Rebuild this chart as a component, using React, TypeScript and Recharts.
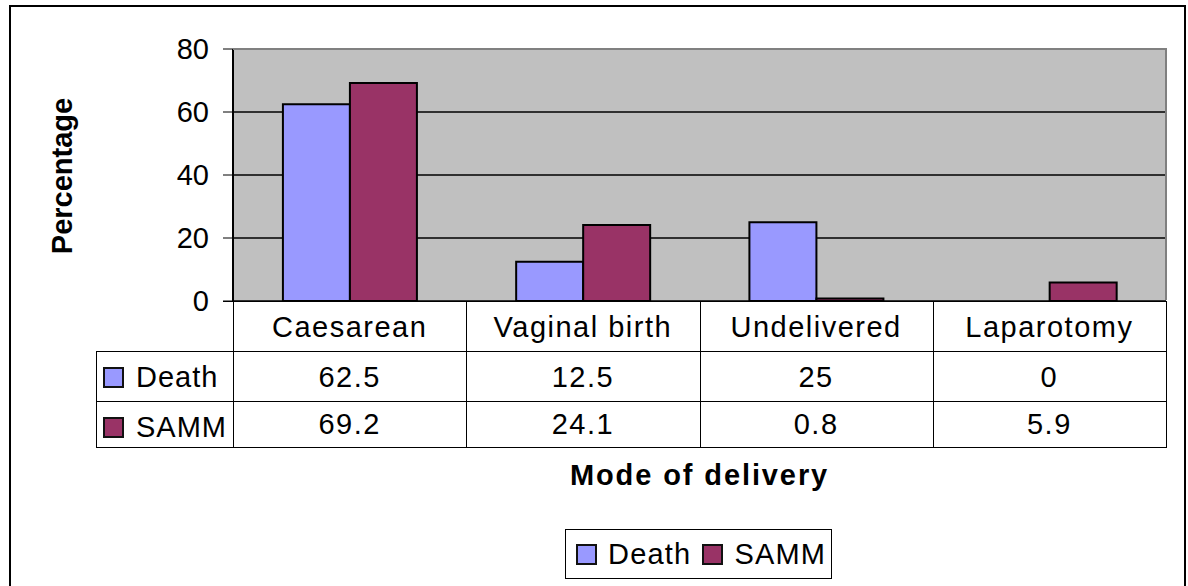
import React from 'react';
import { BarChart, Bar, XAxis, YAxis, CartesianGrid } from 'recharts';

const categories = ['Caesarean', 'Vaginal birth', 'Undelivered', 'Laparotomy'];
const deathValues = [62.5, 12.5, 25, 0];
const sammValues = [69.2, 24.1, 0.8, 5.9];
const yTicks = [0, 20, 40, 60, 80];

const series = [
  { key: 'death', name: 'Death', color: '#9999FF', values: deathValues },
  { key: 'samm', name: 'SAMM', color: '#993366', values: sammValues },
];

const data = categories.map((name, i) => ({ name, death: deathValues[i], samm: sammValues[i] }));

const FONT = 'Arial, "Liberation Sans", sans-serif';

// plot area geometry (px)
const W = 1188;
const H = 586;
const PLOT_LEFT = 233;
const PLOT_RIGHT = 1166;
const PLOT_TOP = 49;
const PLOT_BOTTOM = 301;
const Y_AXIS_W = 60;
const COL_W = (PLOT_RIGHT - PLOT_LEFT) / categories.length;
const ROW_TOP = [301, 351, 401];
const ROW_BOTTOM = 447;
const TABLE_LEFT = 96;

const Swatch: React.FC<{ color: string; gap?: number }> = ({ color, gap = 12 }) => (
  <span
    style={{
      display: 'inline-block',
      width: 17,
      height: 17,
      background: color,
      border: '2px solid #111',
      marginRight: gap,
      verticalAlign: 'middle',
      position: 'relative',
      top: -2,
    }}
  />
);

const App: React.FC = () => {
  const line = '1px solid #000';
  const cellText: React.CSSProperties = {
    position: 'absolute',
    fontFamily: FONT,
    fontSize: 29,
    letterSpacing: 1.5,
    color: '#000',
    textAlign: 'center',
    lineHeight: '50px',
    whiteSpace: 'nowrap',
  };

  return (
    <div style={{ position: 'absolute', left: 0, top: 0, width: W, height: H, overflow: 'hidden', background: '#fff' }}>
      <BarChart
        width={W}
        height={H}
        data={data}
        margin={{ top: PLOT_TOP, right: W - PLOT_RIGHT, bottom: H - PLOT_BOTTOM, left: PLOT_LEFT - Y_AXIS_W }}
        barCategoryGap="21.4%"
        barGap={0}
      >
        <CartesianGrid vertical={false} fill="#C0C0C0" fillOpacity={1} stroke="#000" strokeWidth={1.4} strokeOpacity={1} />
        <XAxis dataKey="name" hide />
        <YAxis
          width={Y_AXIS_W}
          domain={[0, 80]}
          ticks={yTicks}
          interval={0}
          tickSize={10}
          tickMargin={14}
          axisLine={{ stroke: '#000', strokeWidth: 2 }}
          tickLine={{ stroke: '#000' }}
          tick={{ fill: '#000', fontSize: 29, fontFamily: FONT }}
        />
        {series.map((s) => (
          <Bar key={s.key} dataKey={s.key} name={s.name} fill={s.color} stroke="#000" strokeWidth={2} isAnimationActive={false} />
        ))}
      </BarChart>

      {/* plot frame: grey top and right edge */}
      <div
        style={{
          position: 'absolute',
          left: PLOT_LEFT,
          top: PLOT_TOP - 1,
          width: PLOT_RIGHT - PLOT_LEFT + 1,
          height: PLOT_BOTTOM - PLOT_TOP,
          borderTop: '2px solid #808080',
          borderRight: '2px solid #808080',
          boxSizing: 'border-box',
          pointerEvents: 'none',
        }}
      />

      {/* y axis title */}
      <div
        style={{
          position: 'absolute',
          left: 62,
          top: 176,
          transform: 'translate(-50%, -50%) rotate(-90deg)',
          fontFamily: FONT,
          fontWeight: 'bold',
          fontSize: 29,
          whiteSpace: 'nowrap',
        }}
      >
        Percentage
      </div>

      {/* data table lines */}
      <div style={{ position: 'absolute', left: PLOT_LEFT - 10, top: ROW_TOP[0], width: PLOT_RIGHT - PLOT_LEFT + 10, borderTop: line }} />
      {[ROW_TOP[1], ROW_TOP[2], ROW_BOTTOM].map((y) => (
        <div key={y} style={{ position: 'absolute', left: TABLE_LEFT, top: y, width: PLOT_RIGHT - TABLE_LEFT, borderTop: line }} />
      ))}
      {categories.map((_, i) => (
        <div key={i} style={{ position: 'absolute', left: PLOT_LEFT + COL_W * i, top: ROW_TOP[0], height: ROW_BOTTOM - ROW_TOP[0], borderLeft: line }} />
      ))}
      <div style={{ position: 'absolute', left: PLOT_RIGHT, top: ROW_TOP[0], height: ROW_BOTTOM - ROW_TOP[0] + 1, borderLeft: line }} />
      <div style={{ position: 'absolute', left: TABLE_LEFT, top: ROW_TOP[1], height: ROW_BOTTOM - ROW_TOP[1], borderLeft: line }} />

      {/* table: category header */}
      {categories.map((c, i) => (
        <div key={c} style={{ ...cellText, left: PLOT_LEFT + COL_W * i, top: ROW_TOP[0] + 1, width: COL_W }}>
          {c}
        </div>
      ))}
      {/* table: series rows */}
      {series.map((s, r) => (
        <React.Fragment key={s.key}>
          <div style={{ ...cellText, left: TABLE_LEFT + 7, top: ROW_TOP[r + 1] + 1, textAlign: 'left', letterSpacing: 1 }}>
            <Swatch color={s.color} />
            {s.name}
          </div>
          {s.values.map((v, i) => (
            <div key={i} style={{ ...cellText, left: PLOT_LEFT + COL_W * i, top: ROW_TOP[r + 1] + (r === 1 ? -2 : 1), width: COL_W }}>
              {String(v)}
            </div>
          ))}
        </React.Fragment>
      ))}

      {/* x axis title */}
      <div
        style={{
          position: 'absolute',
          left: PLOT_LEFT,
          width: PLOT_RIGHT - PLOT_LEFT,
          top: 459,
          textAlign: 'center',
          fontFamily: FONT,
          fontWeight: 'bold',
          fontSize: 29,
          letterSpacing: 1.9,
        }}
      >
        Mode of delivery
      </div>

      {/* legend */}
      <div
        style={{
          position: 'absolute',
          left: 565,
          top: 529,
          width: 267,
          height: 50,
          border: '1px solid #000',
          boxSizing: 'border-box',
          fontFamily: FONT,
          fontSize: 29,
          letterSpacing: 1.2,
          lineHeight: '48px',
          paddingLeft: 10,
          whiteSpace: 'nowrap',
        }}
      >
        {series.map((s) => (
          <span key={s.key} style={{ marginRight: 11 }}>
            <Swatch color={s.color} gap={11} />
            {s.name}
          </span>
        ))}
      </div>

      {/* outer frame */}
      <div
        style={{
          position: 'absolute',
          left: 9,
          top: 5,
          width: 1177,
          height: 620,
          border: '2px solid #000',
          boxSizing: 'border-box',
          pointerEvents: 'none',
        }}
      />
    </div>
  );
};

export default App;
